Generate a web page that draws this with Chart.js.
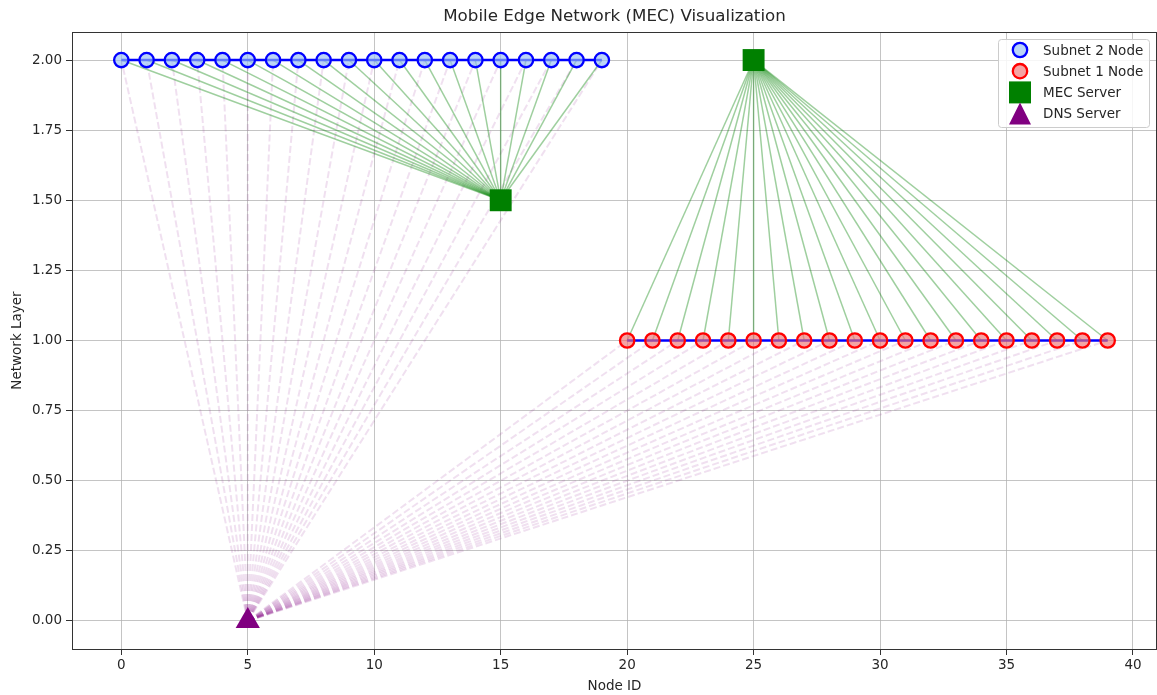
<!DOCTYPE html>
<html>
<head>
<meta charset="utf-8">
<script src="https://cdn.jsdelivr.net/npm/chart.js"></script>
<style>
  html, body { margin: 0; padding: 0; background: #fff; overflow: hidden; }
  #wrap { width: 1157px; height: 695px; position: relative; }
  canvas { display: block; }
</style>
</head>
<body>
<div id="wrap"><canvas id="mecChart"></canvas></div>
<script>
// node ids and layers
const subnet2Ids = [0, 1, 2, 3, 4, 5, 6, 7, 8, 9, 10, 11, 12, 13, 14, 15, 16, 17, 18, 19];
const subnet2Layer = [2, 2, 2, 2, 2, 2, 2, 2, 2, 2, 2, 2, 2, 2, 2, 2, 2, 2, 2, 2];
const subnet1Ids = [20, 21, 22, 23, 24, 25, 26, 27, 28, 29, 30, 31, 32, 33, 34, 35, 36, 37, 38, 39];
const subnet1Layer = [1, 1, 1, 1, 1, 1, 1, 1, 1, 1, 1, 1, 1, 1, 1, 1, 1, 1, 1, 1];
// MEC servers: first serves subnet 2, second serves subnet 1
const mecIds = [15, 25];
const mecLayer = [1.5, 2];
const dnsIds = [5];
const dnsLayer = [0];
const xTicks = [0, 5, 10, 15, 20, 25, 30, 35, 40];
const yTicks = [0, 0.25, 0.5, 0.75, 1, 1.25, 1.5, 1.75, 2];

const FONT = "'DejaVu Sans', sans-serif";
const TXT = '#262626';

const toPts = (xs, ys) => xs.map((x, i) => ({ x: x, y: ys[i] }));
const subnet2Pts = toPts(subnet2Ids, subnet2Layer);
const subnet1Pts = toPts(subnet1Ids, subnet1Layer);
const mecPts = toPts(mecIds, mecLayer);
const dnsPt = { x: dnsIds[0], y: dnsLayer[0] };

const datasets = [];

// node rows
datasets.push({
  label: 'Subnet 2 Node',
  data: subnet2Pts,
  showLine: true,
  borderColor: '#0000ff',
  borderWidth: 2.5,
  pointRadius: 7.2,
  pointBorderWidth: 2.3,
  pointBackgroundColor: 'rgba(150,190,245,0.65)',
  pointBorderColor: '#0000ff',
  order: 1
});
datasets.push({
  label: 'Subnet 1 Node',
  data: subnet1Pts,
  showLine: true,
  borderColor: '#0000ff',
  borderWidth: 2.5,
  pointRadius: 7.2,
  pointBorderWidth: 2.3,
  pointBackgroundColor: 'rgba(240,115,115,0.65)',
  pointBorderColor: '#ff0000',
  order: 1
});
datasets.push({
  label: 'MEC Server',
  data: mecPts,
  pointStyle: 'rect',
  pointRadius: 15.5,
  pointBorderWidth: 0,
  pointBackgroundColor: '#008000',
  pointBorderColor: '#008000',
  order: 0
});
datasets.push({
  label: 'DNS Server',
  data: [dnsPt],
  pointStyle: 'triangle',
  pointRadius: 14,
  pointBorderWidth: 0,
  pointBackgroundColor: '#800080',
  pointBorderColor: '#800080',
  order: 0
});

// green links node -> MEC server
subnet2Pts.forEach(p => datasets.push({
  label: '', link: true, data: [p, mecPts[0]], showLine: true, pointRadius: 0,
  borderColor: 'rgba(0,128,0,0.38)', borderWidth: 1.5, order: 5
}));
subnet1Pts.forEach(p => datasets.push({
  label: '', link: true, data: [p, mecPts[1]], showLine: true, pointRadius: 0,
  borderColor: 'rgba(0,128,0,0.38)', borderWidth: 1.5, order: 5
}));
// purple dashed links DNS -> every node
subnet2Pts.concat(subnet1Pts).forEach(p => datasets.push({
  label: '', link: true, data: [dnsPt, p], showLine: true, pointRadius: 0,
  borderColor: 'rgba(128,0,128,0.12)', borderWidth: 2, borderDash: [7, 3], order: 6
}));

// title, top/right spines, legend box inside the plot
const extras = {
  id: 'extras',
  afterDraw(chart) {
    const ctx = chart.ctx;
    const a = chart.chartArea;
    ctx.save();
    ctx.strokeStyle = '#333';
    ctx.lineWidth = 1;
    ctx.strokeRect(a.left + 0.5, a.top + 0.5, a.right - a.left - 1, a.bottom - a.top);
    ctx.fillStyle = TXT;
    ctx.font = '16.7px ' + FONT;
    ctx.textAlign = 'center';
    ctx.textBaseline = 'middle';
    ctx.fillText('Mobile Edge Network (MEC) Visualization', (a.left + a.right) / 2, 17);

    // legend
    const bx = 998, by = 39, bw = 151, bh = 88;
    ctx.fillStyle = 'rgba(255,255,255,0.85)';
    ctx.strokeStyle = '#cccccc';
    ctx.beginPath();
    ctx.roundRect(bx + 0.5, by + 0.5, bw, bh, 3);
    ctx.fill();
    ctx.stroke();
    ctx.font = '13.5px ' + FONT;
    ctx.textAlign = 'left';
    const items = chart.data.datasets.filter(d => !d.link);
    items.forEach((d, i) => {
      const y = by + 11 + i * 21.2;
      const mx = 1020;
      ctx.fillStyle = d.pointBackgroundColor;
      ctx.strokeStyle = d.pointBorderColor;
      ctx.lineWidth = d.pointBorderWidth;
      ctx.beginPath();
      if (d.pointStyle === 'rect') {
        ctx.rect(mx - 11, y - 11, 22, 22);
        ctx.fill();
      } else if (d.pointStyle === 'triangle') {
        ctx.moveTo(mx, y - 11);
        ctx.lineTo(mx - 11, y + 11);
        ctx.lineTo(mx + 11, y + 11);
        ctx.closePath();
        ctx.fill();
      } else {
        ctx.arc(mx, y, 7.2, 0, Math.PI * 2);
        ctx.fill();
        ctx.stroke();
      }
      ctx.fillStyle = TXT;
      ctx.fillText(d.label, 1043, y + 1);
    });
    ctx.restore();
  }
};

new Chart(document.getElementById('mecChart'), {
  type: 'scatter',
  data: { datasets: datasets },
  options: {
    responsive: true,
    maintainAspectRatio: false,
    devicePixelRatio: 1,
    animation: false,
    layout: { autoPadding: false, padding: { top: 32, right: 0, left: 0, bottom: 0 } },
    plugins: {
      legend: { display: false },
      tooltip: { enabled: false },
      title: { display: false }
    },
    scales: {
      x: {
        type: 'linear',
        min: -1.95,
        max: 40.95,
        afterFit(scale) {
          scale.height = 46;
          scale.paddingLeft = 0;
          scale.paddingRight = 0;
        },
        afterBuildTicks(scale) { scale.ticks = xTicks.map(v => ({ value: v })); },
        ticks: {
          font: { family: FONT, size: 13.5 },
          color: TXT,
          padding: 2
        },
        grid: { color: 'rgba(176,176,176,0.75)', lineWidth: 1, tickLength: 6, tickColor: '#333' },
        border: { color: '#333', width: 1 },
        title: {
          display: true, text: 'Node ID', color: TXT,
          font: { family: FONT, size: 13.5 }, padding: { top: 0, bottom: 0 }
        }
      },
      y: {
        type: 'linear',
        min: -0.1,
        max: 2.1,
        afterFit(scale) {
          scale.width = 72;
          scale.paddingTop = 0;
          scale.paddingBottom = 0;
        },
        afterBuildTicks(scale) { scale.ticks = yTicks.map(v => ({ value: v })); },
        ticks: {
          font: { family: FONT, size: 13.5 },
          color: TXT,
          padding: 4,
          callback: v => Number(v).toFixed(2)
        },
        grid: { color: 'rgba(176,176,176,0.75)', lineWidth: 1, tickLength: 6, tickColor: '#333' },
        border: { color: '#333', width: 1 },
        title: {
          display: true, text: 'Network Layer', color: TXT,
          font: { family: FONT, size: 13.5 }, padding: { top: 9, bottom: 0 }
        }
      }
    }
  },
  plugins: [extras]
});
</script>
</body>
</html>
